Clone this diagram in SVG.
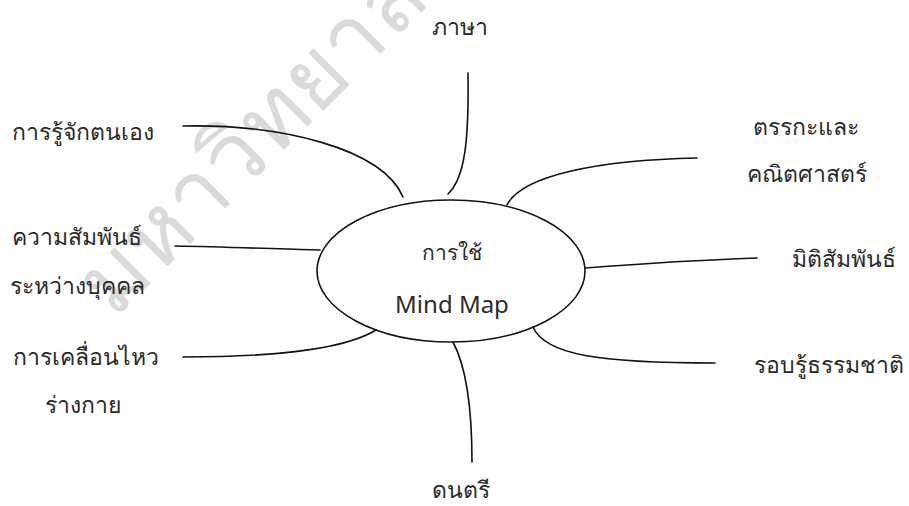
<svg xmlns="http://www.w3.org/2000/svg" width="909" height="506" viewBox="0 0 909 506">
<style>
.lbl{font-family:"Noto Sans","Liberation Sans",sans-serif;font-size:23px;fill:#2a2a2a}
.ctr{font-family:"Noto Sans","Liberation Sans",sans-serif;fill:#2a2a2a;text-anchor:middle}
.wm{font-family:"Noto Sans","Liberation Sans",sans-serif;font-size:92px;fill:#dadada}
.c{fill:none;stroke:#111;stroke-width:1.6;stroke-linecap:round}
</style>
<rect width="909" height="506" fill="#fff"/>
<text class="wm" transform="translate(114,320) rotate(-45)">มหาวิทยาลัย</text>
<g id="connectors">
<path class="c" d="M468,73 C469,140 465,178 448,194"/>
<path class="c" d="M183,126 C280,124 382,148 403,197"/>
<path class="c" d="M507,205 C522,175 600,160 697,158"/>
<path class="c" d="M585,268 C650,263 700,260 757,258"/>
<path class="c" d="M175,246 C230,247 280,249 320,250"/>
<path class="c" d="M183,357 C260,357 340,352 376,330"/>
<path class="c" d="M453,342 C468,370 472,420 472,462"/>
<path class="c" d="M533,327 C545,355 600,363 715,363"/>
</g>
<g id="center">
<ellipse cx="451" cy="271" rx="134" ry="71" fill="none" stroke="#111" stroke-width="1.6"/>
<text class="ctr" x="452" y="260" font-size="21">การใช้</text>
<text class="ctr" x="452" y="313" font-size="24">Mind Map</text>
</g>
<g id="n-language"><text class="lbl" x="460" y="35" text-anchor="middle">ภาษา</text></g>
<g id="n-self"><text class="lbl" x="12" y="140">การรู้จักตนเอง</text></g>
<g id="n-logic"><text class="lbl" x="806" y="135" text-anchor="middle">ตรรกะและ</text><text class="lbl" x="807" y="182" text-anchor="middle">คณิตศาสตร์</text></g>
<g id="n-interpersonal"><text class="lbl" x="12" y="245">ความสัมพันธ์</text><text class="lbl" x="10" y="294">ระหว่างบุคคล</text></g>
<g id="n-spatial"><text class="lbl" x="792" y="267">มิติสัมพันธ์</text></g>
<g id="n-body"><text class="lbl" x="13" y="365">การเคลื่อนไหว</text><text class="lbl" x="83" y="413" text-anchor="middle">ร่างกาย</text></g>
<g id="n-nature"><text class="lbl" x="754" y="373">รอบรู้ธรรมชาติ</text></g>
<g id="n-music"><text class="lbl" x="461" y="498" text-anchor="middle">ดนตรี</text></g>
</svg>
